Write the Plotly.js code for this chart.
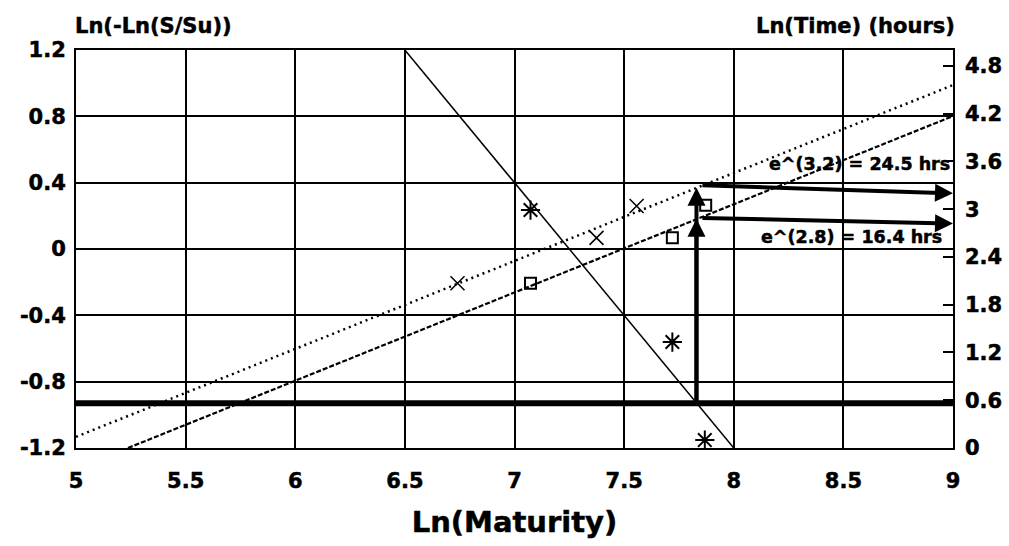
<!DOCTYPE html>
<html>
<head>
<meta charset="utf-8">
<script src="https://cdn.plot.ly/plotly-3.0.1.min.js"></script>
<style>html,body{margin:0;padding:0;background:#fff;}#chart{width:1009px;height:546px;}
#chart text{stroke:#000;stroke-width:0.5px;}</style>
</head>
<body>
<div id="chart"></div>
<script>
// ---- data (Ln(Maturity) on x) ----
// Ln(-Ln(S/Su)) observations (left axis)
var strengthX = [7.073, 7.72, 7.868];
var strengthY = [0.235, -0.561, -1.152];
// Ln(-Ln(S/Su)) fitted line (left axis)
var strengthFitX = [6.5, 8.0];
var strengthFitY = [1.2, -1.2];
// target level (left axis)
var targetX = [5, 9];
var targetY = [-0.93, -0.93];
// Ln(Time) observations, series A (x markers, right axis)
var timeAX = [6.74, 7.374, 7.557];
var timeAY = [2.07, 2.64, 3.04];
// Ln(Time) observations, series B (square markers, right axis)
var timeBX = [7.073, 7.72, 7.872];
var timeBY = [2.07, 2.64, 3.05];
// Ln(Time) fitted lines (right axis)
var fitAX = [5, 9];
var fitAY = [0.14, 4.56];
var fitBX = [5.237, 9];
var fitBY = [0, 4.17];
// reading construction
var readX = 7.83;          // maturity where fit meets target
var readBaseY2 = 0.565;    // target level in right-axis units
var readAY2 = 3.27, readBY2 = 2.88;   // intersections with fits
var resultAY2 = 3.2, resultBY2 = 2.82; // read-out values on right axis
var labelA = 'e^(3.2) = 24.5 hrs';
var labelB = 'e^(2.8) = 16.4 hrs';
// tick labels
var xTickVals = [5, 5.5, 6, 6.5, 7, 7.5, 8, 8.5, 9];
var xTickText = ['5', '5.5', '6', '6.5', '7', '7.5', '8', '8.5', '9'];
var yTickVals = [-1.2, -0.8, -0.4, 0, 0.4, 0.8, 1.2];
var yTickText = ['-1.2', '-0.8', '-0.4', '0', '0.4', '0.8', '1.2'];
var y2TickVals = [0, 0.6, 1.2, 1.8, 2.4, 3, 3.6, 4.2, 4.8];
var y2TickText = ['0', '0.6', '1.2', '1.8', '2.4', '3', '3.6', '4.2', '4.8'];

function b(s) { return '<b>' + s + '</b>'; }

var FONT = 'DejaVu Sans';
var traces = [
  {x: targetX, y: targetY, mode: 'lines', line: {color: '#000', width: 6}, yaxis: 'y', hoverinfo: 'skip'},
  {x: strengthFitX, y: strengthFitY, mode: 'lines', line: {color: '#000', width: 1.5}, yaxis: 'y'},
  {x: fitAX, y: fitAY, mode: 'lines', line: {color: '#000', width: 2.5, dash: '2px,4px'}, yaxis: 'y2'},
  {x: fitBX, y: fitBY, mode: 'lines', line: {color: '#000', width: 2.2, dash: '5px,2px'}, yaxis: 'y2'},
  {x: strengthX, y: strengthY, mode: 'markers', yaxis: 'y',
   marker: {symbol: 'asterisk-open', size: 16, color: '#000', line: {color: '#000', width: 2}}},
  {x: timeAX, y: timeAY, mode: 'markers', yaxis: 'y2',
   marker: {symbol: 'x-thin-open', size: 14, color: '#000', line: {color: '#000', width: 1.5}}},
  {x: timeBX, y: timeBY, mode: 'markers', yaxis: 'y2',
   marker: {symbol: 'square-open', size: 11, color: '#000', line: {color: '#000', width: 2}}}
];

var arrowCommon = {showarrow: true, text: '', arrowhead: 2, arrowsize: 0.9, arrowcolor: '#000',
  xref: 'x', yref: 'y2', axref: 'x', ayref: 'y2', standoff: 0, startstandoff: 0};

var annoFont = {family: FONT, size: 17.5, color: '#000', weight: 700};
var titleFont = {family: FONT, size: 21, color: '#000', weight: 700};
var annotations = [
  Object.assign({}, arrowCommon, {x: readX, y: readAY2, ax: readX, ay: readBaseY2, arrowwidth: 4}),
  Object.assign({}, arrowCommon, {x: readX, y: readBY2, ax: readX, ay: readBaseY2, arrowwidth: 4}),
  Object.assign({}, arrowCommon, {x: 9, y: resultAY2, ax: readX + 0.02, ay: readAY2 + 0.03, arrowwidth: 4}),
  Object.assign({}, arrowCommon, {x: 9, y: resultBY2, ax: readX + 0.02, ay: readBY2 + 0.01, arrowwidth: 4}),
  {text: b(labelA), xref: 'x', yref: 'y2', x: 8.575, y: 3.57, showarrow: false, font: annoFont},
  {text: b(labelB), xref: 'x', yref: 'y2', x: 8.535, y: 2.65, showarrow: false, font: annoFont},
  {text: b('Ln(-Ln(S/Su))'), xref: 'paper', yref: 'paper', x: -0.003, y: 1.025, xanchor: 'left', yanchor: 'bottom',
   showarrow: false, font: titleFont},
  {text: b('Ln(Time) (hours)'), xref: 'paper', yref: 'paper', x: 1.005, y: 1.025, xanchor: 'right', yanchor: 'bottom',
   showarrow: false, font: titleFont}
];

var tickFont = {family: FONT, size: 21, color: '#000', weight: 700};
var layout = {
  width: 1009, height: 546,
  margin: {l: 76, r: 56, t: 50, b: 98},
  paper_bgcolor: '#fff', plot_bgcolor: '#fff',
  showlegend: false,
  font: {family: FONT, color: '#000'},
  xaxis: {range: [5, 9], tickvals: xTickVals, ticktext: xTickText.map(b), tickfont: tickFont,
    showgrid: true, gridcolor: '#000', gridwidth: 2, zeroline: false,
    showline: true, linecolor: '#000', linewidth: 2, mirror: true, ticks: '', ticklabelstandoff: 13,
    title: {text: b('Ln(Maturity)'), font: {family: FONT, size: 29, color: '#000', weight: 700}, standoff: 19}},
  yaxis: {range: [-1.2, 1.2], tickvals: yTickVals, ticktext: yTickText.map(b), tickfont: tickFont,
    showgrid: true, gridcolor: '#000', gridwidth: 2, zeroline: false,
    showline: true, linecolor: '#000', linewidth: 2, mirror: true, ticks: '', ticklabelstandoff: 4},
  yaxis2: {range: [0, 5], tickvals: y2TickVals, ticktext: y2TickText.map(b), tickfont: tickFont,
    overlaying: 'y', side: 'right', showgrid: false, zeroline: false,
    ticks: 'inside', ticklen: 10, tickwidth: 2, tickcolor: '#000', ticklabelstandoff: 11},
  annotations: annotations
};

Plotly.newPlot('chart', traces, layout, {staticPlot: true});
</script>
</body>
</html>
